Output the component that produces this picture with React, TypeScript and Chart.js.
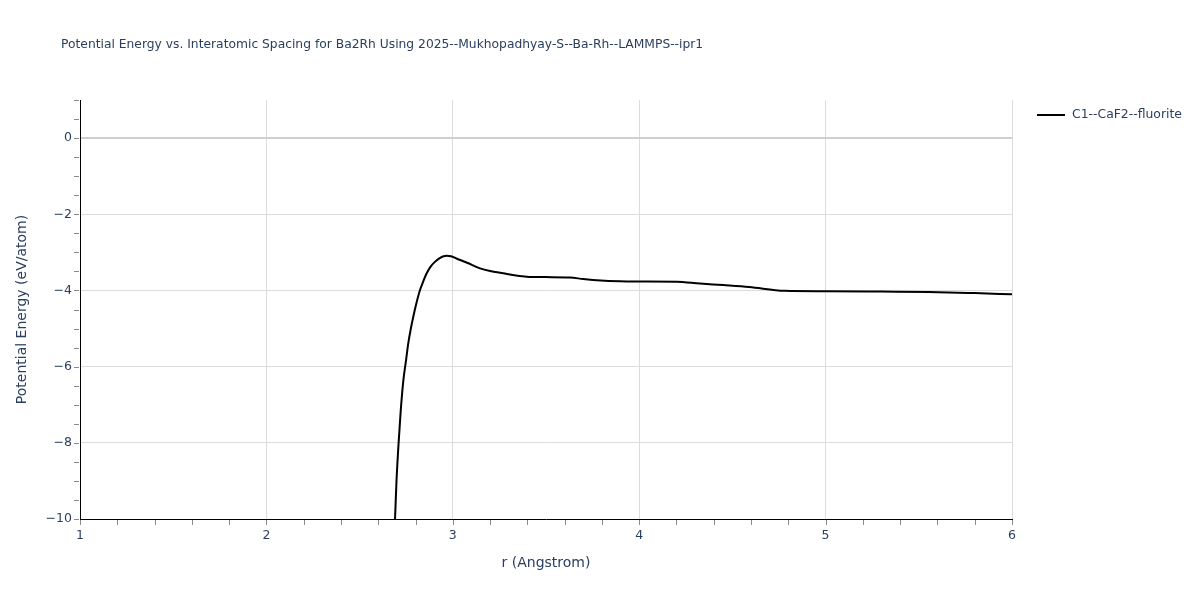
import React, { useEffect, useRef } from "react";
import { Chart, registerables } from "chart.js";

Chart.register(...registerables);

const chartTitle =
  "Potential Energy vs. Interatomic Spacing for Ba2Rh Using 2025--Mukhopadhyay-S--Ba-Rh--LAMMPS--ipr1";
const seriesName = "C1--CaF2--fluorite";
const xAxisTitle = "r (Angstrom)";
const yAxisTitle = "Potential Energy (eV/atom)";

const rValues = [
  2.685, 2.69, 2.698, 2.708, 2.72, 2.735, 2.75, 2.761, 2.775, 2.788, 2.805, 2.824, 2.84, 2.86,
  2.88, 2.904, 2.93, 2.95, 2.967, 2.99, 3.02, 3.08, 3.146, 3.2, 3.271, 3.33, 3.396, 3.5, 3.629,
  3.7, 3.772, 3.897, 4.0, 4.201, 4.326, 4.45, 4.59, 4.78, 5.0, 5.3, 5.55, 5.8, 6.0,
];
const energyValues = [
  -10.5, -10.0, -9.0, -8.1, -7.2, -6.35, -5.8, -5.39, -5.0, -4.69, -4.33, -3.99, -3.78, -3.55,
  -3.38, -3.25, -3.15, -3.1, -3.09, -3.1, -3.16, -3.28, -3.42, -3.49, -3.55, -3.6, -3.64, -3.65,
  -3.66, -3.7, -3.73, -3.76, -3.765, -3.77, -3.82, -3.86, -3.91, -4.01, -4.02, -4.03, -4.04,
  -4.07, -4.1,
];
const xTickValues = [1, 2, 3, 4, 5, 6];
const yTickValues = [-10, -8, -6, -4, -2, 0];

const FONT = '"DejaVu Sans", Verdana, sans-serif';
const TEXT = "#2a3f5f";

const fmt = (v: number) => (v < 0 ? "\u2212" + Math.abs(v) : String(v));

const decorPlugin = {
  id: "decor",
  afterDraw(chart: any) {
    const ctx = chart.ctx;
    const xs = chart.scales.x;
    const ys = chart.scales.y;
    const area = chart.chartArea;
    ctx.save();
    // minor tick marks
    ctx.strokeStyle = "#8a8a8a";
    ctx.lineWidth = 1;
    ctx.beginPath();
    for (let i = 0; i <= 25; i++) {
      const v = 1 + i * 0.2;
      const px = Math.round(xs.getPixelForValue(v)) + 0.5;
      ctx.moveTo(px, area.bottom + 1);
      ctx.lineTo(px, area.bottom + 6);
    }
    for (let i = 0; i <= 22; i++) {
      const v = -10 + i * 0.5;
      const py = Math.round(ys.getPixelForValue(v)) + 0.5;
      ctx.moveTo(area.left - 1, py);
      ctx.lineTo(area.left - 6, py);
    }
    ctx.stroke();

    // tick labels
    ctx.fillStyle = TEXT;
    ctx.font = `12.5px ${FONT}`;
    ctx.textAlign = "center";
    ctx.textBaseline = "middle";
    xTickValues.forEach((v) => {
      ctx.fillText(fmt(v), xs.getPixelForValue(v), area.bottom + 17);
    });
    ctx.textAlign = "right";
    yTickValues.forEach((v) => {
      ctx.fillText(fmt(v), area.left - 8, ys.getPixelForValue(v));
    });

    // axis titles
    ctx.font = `14px ${FONT}`;
    ctx.textAlign = "center";
    ctx.fillText(xAxisTitle, (area.left + area.right) / 2, 563);
    ctx.save();
    ctx.translate(22, (area.top + area.bottom) / 2);
    ctx.rotate(-Math.PI / 2);
    ctx.fillText(yAxisTitle, 0, 0);
    ctx.restore();

    // chart title
    ctx.font = `12.3px ${FONT}`;
    ctx.textAlign = "left";
    ctx.fillText(chartTitle, 61, 45);

    // legend
    ctx.strokeStyle = "#000";
    ctx.lineWidth = 2;
    ctx.beginPath();
    ctx.moveTo(1037, 115);
    ctx.lineTo(1065, 115);
    ctx.stroke();
    ctx.font = `12.4px ${FONT}`;
    ctx.fillText(seriesName, 1072, 115);
    ctx.restore();
  },
};

export default function App() {
  const ref = useRef<HTMLCanvasElement | null>(null);
  useEffect(() => {
    document.body.style.margin = "0";
    if (!ref.current) return;
    const chart = new Chart(ref.current, {
      type: "line",
      data: {
        datasets: [
          {
            label: seriesName,
            data: rValues.map((r, i) => ({ x: r, y: energyValues[i] })),
            borderColor: "#000",
            borderWidth: 2,
            pointRadius: 0,
            fill: false,
            cubicInterpolationMode: "monotone",
          },
        ],
      },
      options: {
        responsive: false,
        animation: false,
        layout: { padding: { left: 0, right: 188, top: 100, bottom: 0 } },
        plugins: {
          legend: { display: false },
          title: { display: false },
          tooltip: { enabled: false },
        },
        scales: {
          x: {
            type: "linear",
            min: 1,
            max: 6,
            afterBuildTicks: (s: any) => {
              s.ticks = xTickValues.map((v) => ({ value: v }));
            },
            afterFit: (s: any) => {
              s.height = 81;
            },
            ticks: { display: false },
            grid: { color: "#dcdcdc", lineWidth: 1, drawTicks: false },
            border: { color: "#000", width: 1 },
          },
          y: {
            type: "linear",
            min: -10,
            max: 1,
            afterBuildTicks: (s: any) => {
              s.ticks = yTickValues.map((v) => ({ value: v }));
            },
            afterFit: (s: any) => {
              s.width = 80;
            },
            ticks: { display: false },
            grid: {
              color: (c: any) => (c.tick && c.tick.value === 0 ? "#cfcfcf" : "#dcdcdc"),
              lineWidth: (c: any) => (c.tick && c.tick.value === 0 ? 2 : 1),
              drawTicks: false,
            },
            border: { color: "#000", width: 1 },
          },
        },
      },
      plugins: [decorPlugin],
    } as any);
    return () => chart.destroy();
  }, []);
  return (
    <div style={{ width: 1200, height: 600, background: "#fff" }}>
      <canvas ref={ref} width={1200} height={600} style={{ display: "block" }} />
    </div>
  );
}
